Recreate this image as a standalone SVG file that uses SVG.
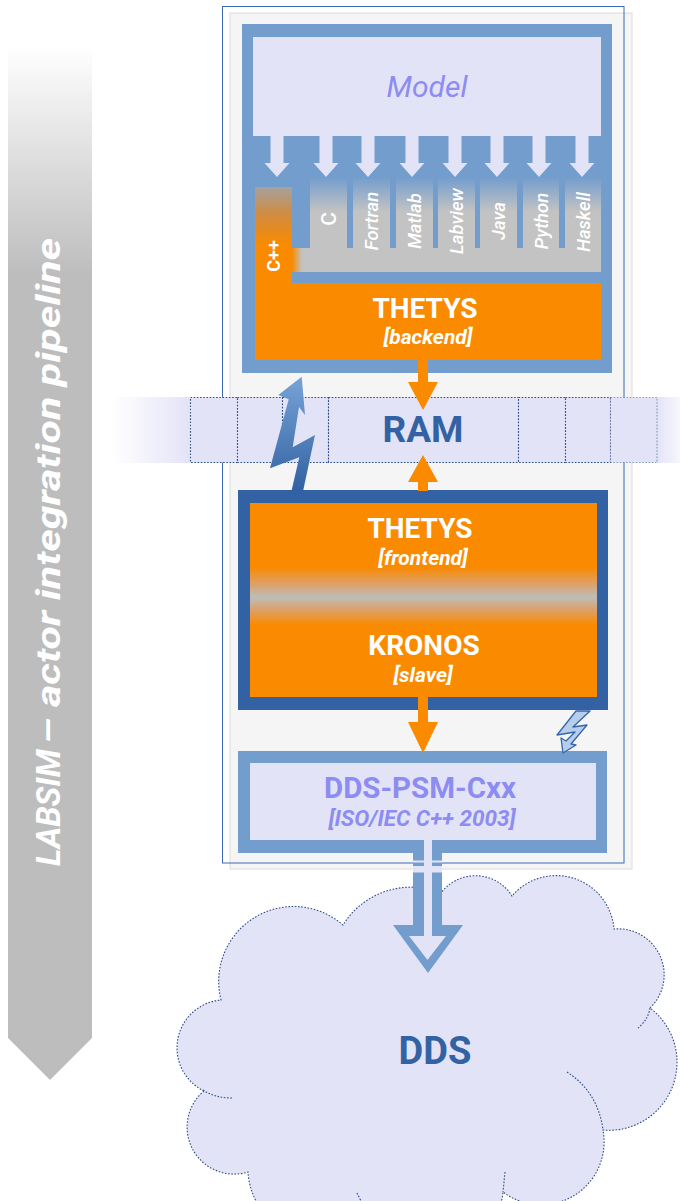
<svg xmlns="http://www.w3.org/2000/svg" width="680" height="1201" viewBox="0 0 680 1201">
<style>
  text { font-family: Roboto, "Liberation Sans", sans-serif; }
  .lang { fill: #ffffff; font-size: 18.5px; font-style: italic; font-weight: 500; text-anchor: middle; }
  .title { fill: #ffffff; font-size: 28px; font-weight: 700; text-anchor: middle; }
  .sub { fill: #ffffff; font-size: 21px; font-weight: 700; font-style: italic; text-anchor: middle; }
  .band { fill: #ffffff; font-size: 33px; font-weight: 700; font-style: italic; }
  .cell { fill: #e3e3f8; stroke: #2b4c85; stroke-width: 1.1; stroke-dasharray: 1.6 1.6; }
  .dots { fill: none; stroke: #2b4c85; stroke-width: 1.1; stroke-dasharray: 1.6 1.6; }
  .orange { fill: #fa8a00; }
  .lav { fill: #e3e3f8; }
  .mid { fill: #729dcd; }
</style>
<defs>
  <linearGradient id="bannerFill" gradientUnits="userSpaceOnUse" x1="0" y1="45" x2="0" y2="275">
    <stop offset="0" stop-color="#ffffff"/>
    <stop offset="1" stop-color="#bdbdbd"/>
  </linearGradient>
  <linearGradient id="langFill" gradientUnits="userSpaceOnUse" x1="0" y1="177" x2="0" y2="212">
    <stop offset="0" stop-color="#729dcd"/>
    <stop offset="1" stop-color="#c3c3c3"/>
  </linearGradient>
  <linearGradient id="cppFill" gradientUnits="userSpaceOnUse" x1="0" y1="187" x2="0" y2="245">
    <stop offset="0" stop-color="#a6a29e"/>
    <stop offset="0.45" stop-color="#cf8c44"/>
    <stop offset="1" stop-color="#fa8a00"/>
  </linearGradient>
  <linearGradient id="cppBleed" gradientUnits="userSpaceOnUse" x1="292" y1="0" x2="302" y2="0">
    <stop offset="0" stop-color="#fa8a00"/>
    <stop offset="1" stop-color="#c3c3c3"/>
  </linearGradient>
  <linearGradient id="frontFill" gradientUnits="userSpaceOnUse" x1="0" y1="503" x2="0" y2="697">
    <stop offset="0" stop-color="#fa8a00"/>
    <stop offset="0.33" stop-color="#fa8a00"/>
    <stop offset="0.42" stop-color="#dca16a"/>
    <stop offset="0.485" stop-color="#bdbdb8"/>
    <stop offset="0.55" stop-color="#dca16a"/>
    <stop offset="0.63" stop-color="#fa8a00"/>
    <stop offset="1" stop-color="#fa8a00"/>
  </linearGradient>
  <linearGradient id="fadeLeft" gradientUnits="userSpaceOnUse" x1="112" y1="0" x2="190" y2="0">
    <stop offset="0" stop-color="#e3e3f8" stop-opacity="0"/>
    <stop offset="1" stop-color="#e3e3f8" stop-opacity="1"/>
  </linearGradient>
  <linearGradient id="fadeRight" gradientUnits="userSpaceOnUse" x1="657" y1="0" x2="690" y2="0">
    <stop offset="0" stop-color="#e3e3f8" stop-opacity="1"/>
    <stop offset="1" stop-color="#e3e3f8" stop-opacity="0"/>
  </linearGradient>
  <linearGradient id="boltFill" gradientUnits="userSpaceOnUse" x1="0" y1="377" x2="0" y2="490">
    <stop offset="0" stop-color="#77a3d6"/>
    <stop offset="1" stop-color="#3262a3"/>
  </linearGradient>
  <!-- small lavender feed arrow from the model into each language column -->
  <path id="feed" d="M-6.5,0 H6.5 V27 H12.5 L0,41 L-12.5,27 H-6.5 Z"/>
</defs>

<!-- pipeline banner on the left -->
<g id="banner">
  <polygon points="8,45 92,45 92,1038 50,1080 8,1038" fill="url(#bannerFill)"/>
  <g transform="translate(60,0) rotate(-90)">
    <text class="band" x="-866" y="0">LABSIM</text>
    <text class="band" x="-744" y="0" textLength="506" lengthAdjust="spacingAndGlyphs">– actor integration pipeline</text>
  </g>
</g>

<!-- process frame -->
<g id="frame">
  <rect x="230" y="13" width="402" height="856" fill="#f5f5f5" stroke="#dcdcdc" stroke-width="1"/>
  <rect x="222.5" y="6.5" width="401.5" height="856.5" fill="none" stroke="#3a6ab5" stroke-width="1"/>
</g>

<!-- DDS cloud -->
<g id="dds">
  <path d="M204,1091 A48 48 0 0 1 221,1000 A75 75 0 0 1 343,925 A80 80 0 0 1 441,893 A43 43 0 0 1 512,896 A58 58 0 0 1 614,929 A46 46 0 0 1 650,1008 A68 68 0 0 1 603,1130 A63 63 0 0 1 503,1192 A70 70 0 0 1 370,1215 A70 70 0 0 1 248,1172 A47 47 0 0 1 204,1091 Z" class="cell"/>
  <path d="M567,1072 Q598,1092 603,1130" class="dots"/>
  <path d="M650,1008 Q648,1020 638,1028" class="dots"/>
  <path d="M203,1090 Q215,1098 232,1098" class="dots"/>
  <path d="M505,1172 Q504,1182 503,1192" class="dots"/>
  <path d="M357,1193 L363,1205" class="dots"/>
  <text x="435" y="1064" fill="#3262a3" font-size="38" font-weight="700" text-anchor="middle">DDS</text>
</g>

<!-- THETYS backend with the model and its language bindings -->
<g id="backend">
  <rect x="242" y="24" width="370" height="349" class="mid"/>
  <rect x="253" y="37" width="348" height="99" class="lav"/>
  <text x="427" y="97" fill="#8c8cf2" font-size="30" font-style="italic" text-anchor="middle">Model</text>
  <rect x="292" y="177" width="309" height="95" fill="url(#langFill)"/>
  <g class="mid">
    <rect x="292" y="177" width="18" height="71"/>
    <rect x="347" y="177" width="6" height="71"/>
    <rect x="390" y="177" width="6" height="71"/>
    <rect x="433" y="177" width="5" height="71"/>
    <rect x="475" y="177" width="5" height="71"/>
    <rect x="517" y="177" width="6" height="71"/>
    <rect x="559" y="177" width="6" height="71"/>
  </g>
  <rect x="292" y="248" width="10" height="24" fill="url(#cppBleed)"/>
  <rect x="255" y="187" width="37" height="96" fill="url(#cppFill)"/>
  <rect x="255" y="283" width="346" height="77" class="orange"/>
  <text transform="translate(336,219) rotate(-90)" fill="#ffffff" font-size="21" font-weight="500" text-anchor="middle">C</text>
  <text class="lang" transform="translate(378,221) rotate(-90)">Fortran</text>
  <text class="lang" transform="translate(421,221) rotate(-90)">Matlab</text>
  <text class="lang" transform="translate(463,221) rotate(-90)">Labview</text>
  <text class="lang" transform="translate(505,221) rotate(-90)">Java</text>
  <text class="lang" transform="translate(547.5,221) rotate(-90)">Python</text>
  <text class="lang" transform="translate(589.5,222) rotate(-90)">Haskell</text>
  <text transform="translate(280,256) rotate(-90)" fill="#ffffff" font-size="18" font-weight="700" text-anchor="middle">C++</text>
  <text x="425" y="318" class="title">THETYS</text>
  <text x="428" y="344" class="sub">[backend]</text>
</g>

<!-- shared memory -->
<g id="ram">
  <rect x="112" y="397" width="78" height="66" fill="url(#fadeLeft)"/>
  <rect x="657" y="397" width="33" height="66" fill="url(#fadeRight)"/>
  <rect x="190.5" y="397.5" width="47" height="65" class="cell"/>
  <rect x="237.5" y="397.5" width="45" height="65" class="cell"/>
  <rect x="282.5" y="397.5" width="46" height="65" class="cell"/>
  <rect x="328.5" y="397.5" width="190" height="65" class="cell"/>
  <rect x="518.5" y="397.5" width="47" height="65" class="cell"/>
  <rect x="565.5" y="397.5" width="45" height="65" class="cell"/>
  <rect x="610.5" y="397.5" width="46.5" height="65" class="cell" stroke-opacity="0.5"/>
  <text x="423" y="442" fill="#3262a3" font-size="37" font-weight="700" text-anchor="middle">RAM</text>
</g>

<!-- THETYS frontend / KRONOS slave -->
<g id="frontend">
  <rect x="238" y="490" width="370" height="220" fill="#3262a3"/>
  <rect x="250" y="503" width="347" height="194" fill="url(#frontFill)"/>
  <text x="420" y="538" class="title">THETYS</text>
  <text x="423" y="565" class="sub">[frontend]</text>
  <text x="424" y="655" class="title">KRONOS</text>
  <text x="423" y="682" class="sub">[slave]</text>
</g>

<!-- DDS C++ binding -->
<g id="dds-psm">
  <rect x="238" y="751" width="369" height="102" class="mid"/>
  <rect x="250" y="763" width="346" height="77" class="lav"/>
  <text x="420" y="798" fill="#8c8cf2" font-size="29.5" font-weight="700" text-anchor="middle">DDS-PSM-Cxx</text>
  <text x="422" y="826" fill="#8c8cf2" font-size="22.5" font-weight="700" font-style="italic" text-anchor="middle">[ISO/IEC C++ 2003]</text>
</g>

<g id="connectors">
  <!-- model to language bindings -->
  <g class="lav">
    <use href="#feed" x="277" y="136"/>
    <use href="#feed" x="326" y="136"/>
    <use href="#feed" x="368" y="136"/>
    <use href="#feed" x="412" y="136"/>
    <use href="#feed" x="455" y="136"/>
    <use href="#feed" x="497" y="136"/>
    <use href="#feed" x="539" y="136"/>
    <use href="#feed" x="582" y="136"/>
  </g>
  <!-- backend to RAM -->
  <polygon class="orange" points="418,359 428,359 428,382 438,382 423,410 408,382 418,382"/>
  <!-- frontend to RAM -->
  <polygon class="orange" points="418,491 428,491 428,482 438,482 423,455 408,482 418,482"/>
  <!-- frontend to DDS-PSM -->
  <polygon class="orange" points="418,697 428,697 428,722 438,722 423,753 408,722 418,722"/>
  <!-- signalling bolt frontend to backend -->
  <polygon fill="url(#boltFill)" points="301.7,376.7 305,415 299,407 292.7,447.3 315,435 303.3,490 291.7,490 299.3,457.3 270,468.3 288.7,399.3 278.3,395"/>
  <!-- signalling bolt frontend to DDS-PSM -->
  <polygon fill="#b7cdec" stroke="#3466ad" stroke-width="1.3" stroke-linejoin="round" points="576,711 590,711 573,727 587,725 571,744 576,745 563,753 561,738 566,741 575,732 557,735"/>
  <!-- DDS-PSM publishes into DDS -->
  <path class="mid" d="M413,840 H442 V925 H463 L428,973 L393,925 H413 Z"/>
  <path class="lav" d="M424,840 H432 V936 H446 L427.5,960 L409,936 H424 Z"/>
  <rect x="413" y="860.5" width="29" height="2" class="lav"/>
  <rect x="413" y="866" width="29" height="6.5" class="lav"/>
</g>
</svg>
